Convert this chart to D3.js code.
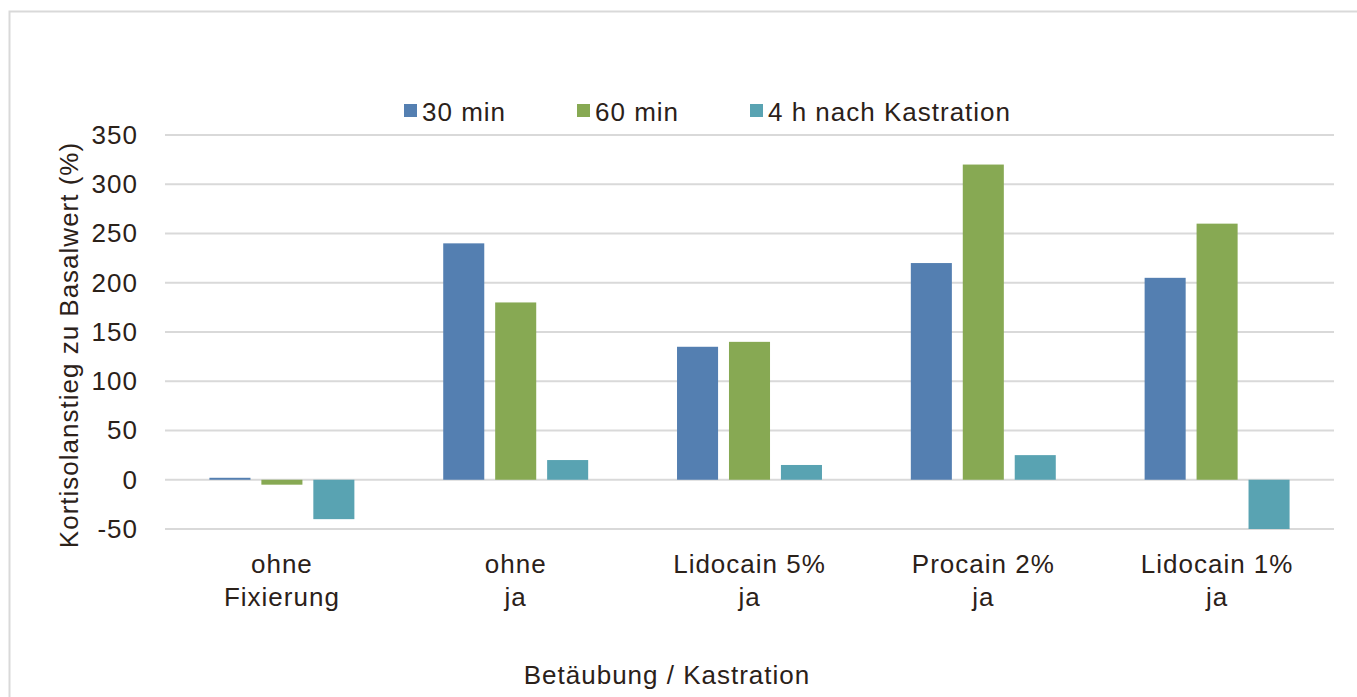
<!DOCTYPE html>
<html>
<head>
<meta charset="utf-8">
<script src="https://cdn.jsdelivr.net/npm/d3@7"></script>
<style>
  body { margin: 0; background: #fff; }
  svg { display: block; font-family: "Liberation Sans", Arial, sans-serif; }
  svg text { letter-spacing: 1px; }
</style>
</head>
<body>
<svg id="chart" width="1357" height="697"></svg>
<script>
var categories = [["ohne", "Fixierung"], ["ohne", "ja"], ["Lidocain 5%", "ja"], ["Procain 2%", "ja"], ["Lidocain 1%", "ja"]];
var seriesNames = ["30 min", "60 min", "4 h nach Kastration"];
var v30 = [2, 240, 135, 220, 205];
var v60 = [-5, 180, 140, 320, 260];
var v4h = [-40, 20, 15, 25, -50];
var yTicks = [-50, 0, 50, 100, 150, 200, 250, 300, 350];
var colors = ["#547fb1", "#87a953", "#59a3b2"];

var svg = d3.select("#chart");
var textCol = "#2b2119";
var fs = "26px";
var plotL = 165, plotR = 1334, plotT = 135, plotB = 529;

// outer frame
svg.append("rect")
    .attr("x", 9.5).attr("y", 11.5)
    .attr("width", 1400).attr("height", 800)
    .attr("fill", "none").attr("stroke", "#d9d9d9").attr("stroke-width", 2);

var scY = d3.scaleLinear().domain([-50, 350]).range([plotB, plotT]);
var scX = d3.scaleBand().domain(d3.range(categories.length)).range([plotL, plotR]);
var scInner = d3.scaleBand().domain(d3.range(seriesNames.length))
    .range([0, scX.bandwidth()]).paddingInner(0.21).paddingOuter(0.855);

// gridlines
svg.append("g").selectAll("line")
    .data(yTicks).enter().append("line")
    .attr("x1", plotL).attr("x2", plotR)
    .attr("y1", d => scY(d)).attr("y2", d => scY(d))
    .attr("stroke", "#d9d9d9").attr("stroke-width", 2);

// y axis labels (plain hyphen for negatives like the original)
var yAxis = svg.append("g")
    .attr("transform", "translate(" + plotL + ",0)")
    .call(d3.axisLeft(scY).tickValues(yTicks).tickFormat(d => String(d)).tickSize(0).tickPadding(27));
yAxis.select(".domain").remove();
yAxis.selectAll("text")
    .attr("fill", textCol)
    .style("font-size", fs)
    .style("font-family", "Liberation Sans, Arial, sans-serif");

// bars
var table = categories.map((c, i) => [v30[i], v60[i], v4h[i]]);
var groups = svg.append("g").selectAll("g")
    .data(table).enter().append("g")
    .attr("transform", (d, i) => "translate(" + scX(i) + ",0)");

groups.selectAll("rect")
    .data(d => d).enter().append("rect")
    .attr("x", (d, j) => scInner(j))
    .attr("width", scInner.bandwidth())
    .attr("y", d => Math.min(scY(d), scY(0)))
    .attr("height", d => Math.abs(scY(d) - scY(0)))
    .attr("fill", (d, j) => colors[j]);

// category labels
var cat = svg.append("g").selectAll("text")
    .data(categories).enter().append("text")
    .attr("x", (d, i) => scX(i) + scX.bandwidth() / 2)
    .attr("y", 573)
    .attr("text-anchor", "middle")
    .attr("fill", textCol)
    .style("font-size", fs);
cat.append("tspan").text(d => d[0]);
cat.append("tspan")
    .attr("x", (d, i) => scX(i) + scX.bandwidth() / 2)
    .attr("dy", 33)
    .text(d => d[1]);

// axis titles
svg.append("text")
    .attr("x", 667).attr("y", 684)
    .attr("text-anchor", "middle")
    .attr("fill", textCol)
    .style("font-size", fs)
    .text("Betäubung / Kastration");

svg.append("text")
    .attr("transform", "translate(78,345) rotate(-90)")
    .attr("text-anchor", "middle")
    .attr("fill", textCol)
    .style("font-size", fs)
    .text("Kortisolanstieg zu Basalwert (%)");

// legend
var legendX = [404, 577, 750];
var legend = svg.append("g").selectAll("g")
    .data(seriesNames).enter().append("g")
    .attr("transform", (d, i) => "translate(" + legendX[i] + ",104)");
legend.append("rect")
    .attr("width", 13).attr("height", 13)
    .attr("fill", (d, i) => colors[i]);
legend.append("text")
    .attr("x", 18).attr("y", 17)
    .attr("fill", textCol)
    .style("font-size", fs)
    .text(d => d);
</script>
</body>
</html>
